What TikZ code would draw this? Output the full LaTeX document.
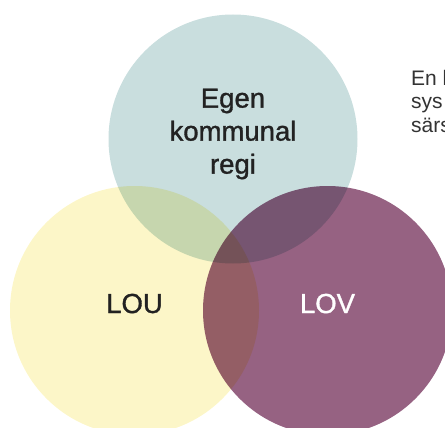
\documentclass[tikz,border=0pt]{standalone}
\usepackage{fontspec}
\setmainfont{Liberation Sans}
\newfontfamily\vennfont[FakeBold=1.2]{Liberation Sans}
\definecolor{regiteal}{HTML}{C9DEDE}
\definecolor{louyellow}{HTML}{FCF6C8}
\definecolor{lovplum}{HTML}{966282}
\definecolor{inkgray}{HTML}{222222}
\definecolor{sidegray}{HTML}{333333}
\tikzset{
  vennset/.style = {circle, minimum size=249pt, inner sep=0pt},
  vennlabel/.style = {font=\vennfont\fontsize{27.5}{33}\selectfont, text=inkgray, align=center},
  sidetext/.style = {font=\fontsize{21}{23.5}\selectfont, text=sidegray, anchor=base west, inner sep=0pt}
}
\begin{document}
\begin{tikzpicture}[x=1pt, y=-1pt]
  \useasboundingbox (0,0) rectangle (445,428);
  \clip (0,0) rectangle (445,428);
  % Place circles
  \begin{scope}[blend group=multiply]
    \node [vennset, fill=regiteal] (regi) at (233,139) {};
    \node [vennset, fill=louyellow] (lou) at (134.5,310.5) {};
    \node [vennset, fill=lovplum] (lov) at (327.5,310.5) {};
  \end{scope}
  % Place labels
  \node [vennlabel] (regitext) at (233,134) {Egen\\kommunal\\regi};
  \node [vennlabel, anchor=base] (loutext) at (lou |- 0,313) {LOU};
  \node [vennlabel, anchor=base, text=white] (lovtext) at (lov |- 0,313) {LOV};
  % Side text
  \node [sidetext] (side1) at (411,85) {En l};
  \node [sidetext] (side2) at (411,108.5) {sys};
  \node [sidetext] (side3) at (411,132) {särs};
\end{tikzpicture}
\end{document}
